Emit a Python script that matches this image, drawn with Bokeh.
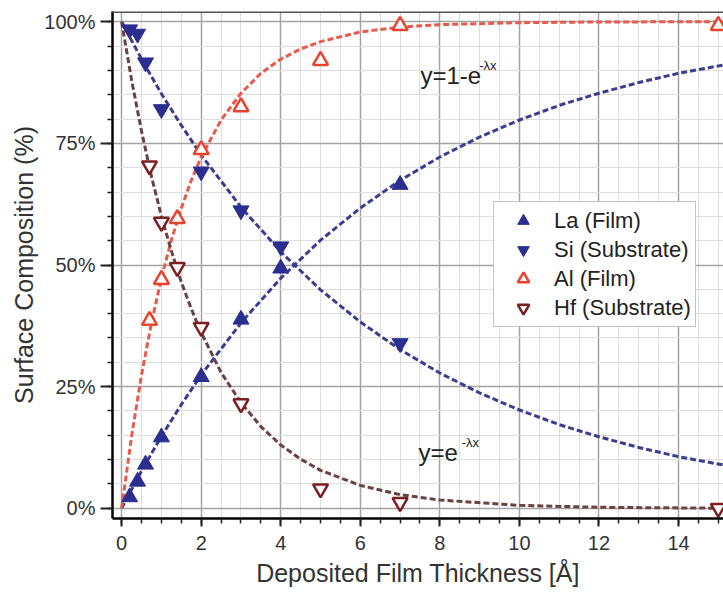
import numpy as np
from bokeh.plotting import figure
from bokeh.models import (Range1d, FixedTicker, PrintfTickFormatter, Legend,
                          LegendItem, Label, Span)
from bokeh.embed import file_html
from bokeh.resources import INLINE

# ---------------- data ----------------
la_x = [0.2, 0.4, 0.6, 1.0, 2.0, 3.0, 4.0, 7.0]
la_y = [2.3, 5.5, 9.0, 14.6, 27.0, 38.8, 49.3, 66.5]
si_x = [0.2, 0.4, 0.6, 1.0, 2.0, 3.0, 4.0, 7.0]
si_y = [98.4, 97.5, 91.6, 82.0, 69.2, 61.2, 53.8, 33.9]
al_x = [0.7, 1.0, 1.4, 2.0, 3.0, 5.0, 7.0, 15.0]
al_y = [38.6, 47.0, 59.5, 73.7, 82.5, 92.0, 99.2, 99.2]
hf_x = [0.7, 1.0, 1.4, 2.0, 3.0, 5.0, 7.0, 15.0]
hf_y = [70.4, 58.8, 49.5, 37.2, 21.5, 4.0, 1.2, 0.0]

# dashed fit curves
slow_fit_x = [0, 0.5, 1, 1.5, 2, 3, 4, 5, 6, 7, 8, 9, 10, 11, 12, 13, 14, 15.2]
la_fit = [0, 7.7, 14.8, 21.3, 27.4, 38.1, 47.3, 55.1, 61.7, 67.4, 72.2, 76.3,
          79.8, 82.8, 85.3, 87.5, 89.4, 91.2]
si_fit = [100, 92.3, 85.2, 78.7, 72.6, 61.9, 52.7, 44.9, 38.3, 32.6, 27.8, 23.7,
          20.2, 17.2, 14.7, 12.5, 10.6, 8.8]
fast_fit_x = [0, 0.25, 0.5, 0.75, 1, 1.25, 1.5, 1.75, 2, 2.5, 3, 3.5, 4, 4.5, 5,
              6, 7, 8, 10, 12, 15.2]
al_fit = [0, 14.8, 27.4, 38.1, 47.3, 55.1, 61.7, 67.4, 72.2, 79.8, 85.3, 89.4,
          92.3, 94.4, 95.9, 97.9, 98.9, 99.4, 99.8, 99.95, 100]
hf_fit = [100, 88.0, 77.5, 68.2, 60.0, 52.9, 46.5, 41.0, 36.1, 27.9, 21.7, 16.8,
          13.0, 10.1, 7.8, 4.7, 2.8, 1.7, 0.6, 0.2, 0.0]

x_ticks = [0, 2, 4, 6, 8, 10, 12, 14]
y_ticks = [0, 25, 50, 75, 100]
series_labels = ["La (Film)", "Si (Substrate)", "Al (Film)", "Hf (Substrate)"]

FONT = "Liberation Sans"
BLUE = "#2B2D8F"
BLUE_LINE = "#3A3E8C"
RED = "#E8432F"
RED_LINE = "#E85A4C"
DARKRED = "#7A1F22"
DARKRED_LINE = "#6A4242"

p = figure(width=723, height=601, output_backend="svg", toolbar_location=None,
           x_range=Range1d(-0.23, 15.13), y_range=Range1d(-2.1, 102.1),
           min_border_left=112, min_border_right=0, min_border_top=11,
           min_border_bottom=83)
p.outline_line_color = None
p.background_fill_color = "white"
p.border_fill_color = "white"

# ticks / axes
x_minor = list(np.arange(0, 15.6, 0.5))
y_minor = list(np.arange(0, 101, 5))
p.xaxis.ticker = FixedTicker(ticks=x_ticks, minor_ticks=x_minor)
p.yaxis.ticker = FixedTicker(ticks=y_ticks, minor_ticks=y_minor)
p.yaxis.formatter = PrintfTickFormatter(format="%d%%")
p.xaxis.axis_label = "Deposited Film Thickness [Å]"
p.yaxis.axis_label = "Surface Composition (%)"
for ax in (p.xaxis, p.yaxis):
    ax.axis_line_width = 2.5
    ax.axis_line_color = "black"
    ax.major_tick_in = 0
    ax.minor_tick_in = 0
    ax.minor_tick_out = 5
    ax.major_tick_line_width = 2
    ax.minor_tick_line_width = 1.5
    ax.major_tick_line_color = "#222"
    ax.minor_tick_line_color = "#222"
    ax.major_label_text_font = FONT
    ax.major_label_text_font_size = "20px"
    ax.major_label_text_color = "#333"
    ax.axis_label_text_font = FONT
    ax.axis_label_text_font_size = "25px"
    ax.axis_label_text_font_style = "normal"
    ax.axis_label_text_color = "#333"
p.xaxis.major_tick_out = 8
p.yaxis.major_tick_out = 12
p.xaxis.major_label_standoff = 9
p.yaxis.major_label_standoff = 5
p.xaxis.axis_label_standoff = 6
p.yaxis.axis_label_standoff = 3

for g in (p.xgrid, p.ygrid):
    g.grid_line_color = "#a3a3a3"
    g.grid_line_width = 1.5
    g.minor_grid_line_color = "#dedede"
    g.minor_grid_line_width = 1

p.add_layout(Span(location=102.1, dimension="width", line_color="#555",
                  line_width=3))

# fit curves
dash = "6 3"
p.line(slow_fit_x, la_fit, line_color=BLUE_LINE, line_width=3, line_dash=dash)
p.line(slow_fit_x, si_fit, line_color=BLUE_LINE, line_width=3, line_dash=dash)
p.line(fast_fit_x, al_fit, line_color=RED_LINE, line_width=3, line_dash=dash)
p.line(fast_fit_x, hf_fit, line_color=DARKRED_LINE, line_width=3, line_dash=dash)

# data points
r_la = p.scatter(la_x, la_y, marker="triangle", size=16, fill_color=BLUE,
                 line_color=BLUE, line_width=1)
r_si = p.scatter(si_x, si_y, marker="inverted_triangle", size=16,
                 fill_color=BLUE, line_color=BLUE, line_width=1)
r_al = p.scatter(al_x, al_y, marker="triangle", size=15, fill_color="white",
                 line_color=RED, line_width=2.5)
r_hf = p.scatter(hf_x, hf_y, marker="inverted_triangle", size=15,
                 fill_color="white", line_color=DARKRED, line_width=2.5)

legend = Legend(items=[LegendItem(label=l, renderers=[r]) for l, r in
                       zip(series_labels, [r_la, r_si, r_al, r_hf])],
                location=(381, 191))
legend.label_text_font = FONT
legend.label_text_font_size = "22px"
legend.label_text_color = "#222"
legend.glyph_width = 50
legend.glyph_height = 29
legend.label_height = 29
legend.spacing = 0
legend.padding = 4
legend.margin = 0
legend.label_standoff = 6
legend.border_line_color = "#888"
legend.border_line_width = 1.5
legend.background_fill_color = "white"
legend.background_fill_alpha = 1
p.add_layout(legend)

# equations
p.add_layout(Label(x=7.51, y=88.9, text="y=1-e", text_font=FONT,
                   text_font_size="24px", text_baseline="middle",
                   text_color="#222"))
p.add_layout(Label(x=8.99, y=90.9, text="-λx", text_font=FONT,
                   text_font_size="13px", text_baseline="middle",
                   text_color="#222"))
p.add_layout(Label(x=7.46, y=11.5, text="y=e", text_font=FONT,
                   text_font_size="24px", text_baseline="middle",
                   text_color="#222"))
p.add_layout(Label(x=8.55, y=13.6, text="-λx", text_font=FONT,
                   text_font_size="13px", text_baseline="middle",
                   text_color="#222"))

open("out.html", "w").write(file_html(p, INLINE))
